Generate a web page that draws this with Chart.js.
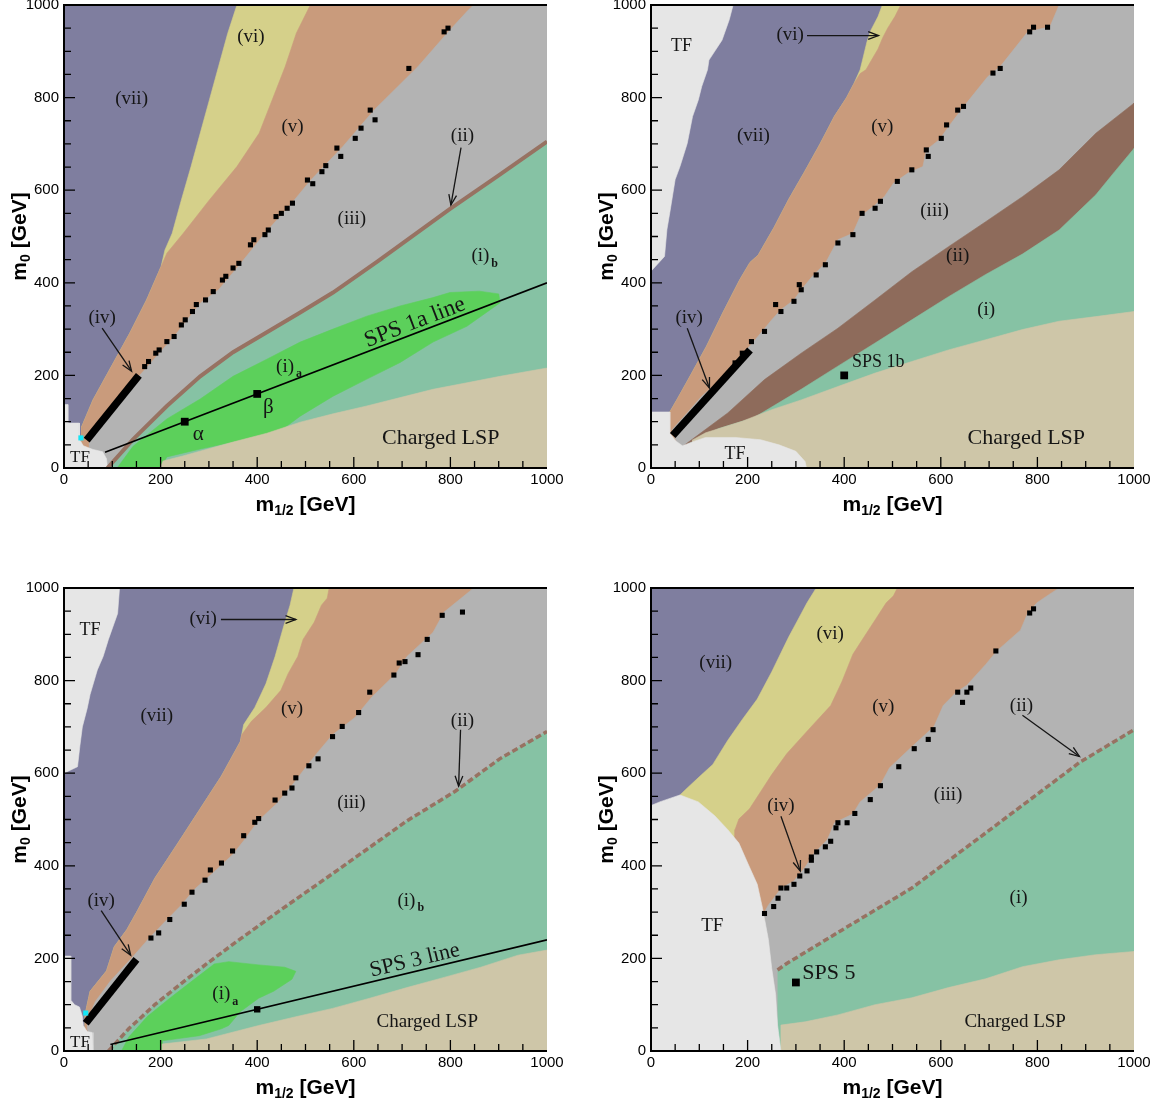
<!DOCTYPE html>
<html><head><meta charset="utf-8">
<script src="https://cdn.jsdelivr.net/npm/chart.js@4.4.0/dist/chart.umd.min.js"></script>
<style>
html,body{margin:0;padding:0;background:#fff}
body{width:1158px;height:1107px;overflow:hidden;position:relative}
.p{position:absolute;width:575px}
</style></head><body>
<div class="p" id="d1" style="left:0px;top:-8px"><canvas id="c1" width="575" height="545"></canvas></div>
<div class="p" id="d2" style="left:587px;top:-8px"><canvas id="c2" width="575" height="545"></canvas></div>
<div class="p" id="d3" style="left:0px;top:575px"><canvas id="c3" width="575" height="545"></canvas></div>
<div class="p" id="d4" style="left:587px;top:575px"><canvas id="c4" width="575" height="545"></canvas></div>
<script>
// ---------------- data (m1/2, m0) in GeV ----------------
const tickValues = [0, 200, 400, 600, 800, 1000];
const tickLabels = ['0', '200', '400', '600', '800', '1000'];
const fullPlane = [[0,0],[0,1000],[1000,1000],[1000,0]];

// Panel 1 (SPS 1a)
const p1_vii_vi = [[358,1000],[339,939],[320,867],[301,795],[282,723],[263,651],[243,579],[224,507],[209,471],[201,435],[171,363],[136,291],[98,219],[60,147],[37,90],[37,0]];
const p1_vi_v = [[510,1000],[481,939],[458,867],[431,795],[404,723],[358,651],[301,579],[247,507],[213,464],[201,435],[171,363],[136,291],[98,219],[60,147],[37,90],[37,0]];
const p1_v_iii = [[848,1000],[837,989],[799,946],[733,867],[642,773],[577,694],[511,622],[466,565],[416,507],[366,442],[320,385],[282,356],[228,284],[155,198],[113,147],[52,54],[55,0]];
const p1_ii = [[90,0],[143,62],[213,134],[282,198],[350,250],[420,293],[489,336],[557,379],[650,447],[800,560],[900,632],[1000,705]];
const p1_ia = [[110,0],[143,47],[213,106],[282,149],[350,198],[420,235],[489,272],[557,300],[627,328],[696,350],[764,368],[799,379],[860,382],[900,376],[903,357],[834,306],[764,272],[696,228],[627,192],[557,155],[489,112],[453,84],[420,69],[350,56],[282,41],[213,24],[199,0]];
const p1_lsp = [[199,0],[205,15],[246,26],[350,56],[420,75],[489,99],[557,117],[627,134],[696,152],[764,170],[834,184],[903,198],[1000,216]];
const p1_tf = [[0,0],[0,137],[8,137],[8,97],[32,97],[32,62],[40,48],[60,40],[80,35],[88,20],[90,0]];
const p1_chain = [[47,60],[155,200]];
const p1_sq = [[795,950],[787,942],[714,863],[634,773],[644,752],[615,734],[603,712],[565,691],[573,673],[542,653],[534,640],[504,622],[515,614],[473,572],[462,561],[450,550],[439,543],[423,514],[416,504],[393,493],[386,482],[362,442],[350,432],[335,414],[328,406],[309,381],[293,363],[274,353],[266,338],[251,320],[243,309],[228,284],[213,273],[197,255],[190,248],[175,230],[167,219]];
const p1_cyan = [[35,65]];
const p1_sps = [[85,34],[1000,400]];
const p1_pts = [[250,100],[400,160]];

// Panel 2 (SPS 1b)
const p2_tf_left = [[0,1000],[170,1000],[162,968],[147,924],[120,881],[117,860],[105,824],[98,795],[86,759],[75,701],[60,651],[50,623],[39,552],[33,515],[28,457],[0,425]];
const p2_tf_bottom = [[0,0],[0,121],[39,121],[39,75],[52,58],[65,48],[90,58],[113,66],[174,66],[227,61],[265,50],[300,36],[319,14],[322,0]];
const p2_vii_vi = [[479,1000],[470,975],[455,945],[447,920],[440,890],[433,860],[420,830],[405,800],[380,760],[350,700],[318,640],[285,580],[255,520],[222,460],[205,444],[184,407],[149,336],[115,263],[77,191],[55,150],[39,121],[39,0]];
const p2_vi_v = [[517,1000],[505,975],[490,950],[480,930],[470,905],[456,880],[445,860],[433,852],[420,830],[405,800],[380,760],[350,700],[318,640],[285,580],[255,520],[222,460],[205,444],[184,407],[149,336],[115,263],[77,191],[55,150],[39,121],[39,0]];
const p2_v_iii = [[845,1000],[826,953],[780,942],[723,867],[697,845],[647,780],[616,737],[597,709],[570,687],[563,651],[532,637],[502,615],[483,586],[464,568],[433,543],[418,507],[387,493],[361,442],[334,414],[311,385],[296,363],[269,342],[250,320],[227,291],[204,263],[159,205],[136,183],[105,155],[75,119],[44,83],[55,50],[60,0]];
const p2_ii_top = [[60,40],[70,50],[159,119],[235,191],[311,248],[387,302],[464,363],[540,424],[616,478],[693,532],[769,586],[845,644],[921,723],[1000,788]];
const p2_i_top = [[75,50],[140,85],[212,108],[311,170],[387,220],[464,270],[540,320],[616,370],[693,418],[769,462],[845,514],[921,590],[960,640],[1000,690]];
const p2_lsp = [[85,60],[113,76],[189,101],[250,126],[311,147],[387,176],[464,205],[540,230],[616,255],[693,277],[769,299],[845,317],[921,327],[1000,338]];
const p2_chain = [[45,70],[205,255]];
const p2_sq = [[784,942],[792,952],[821,952],[708,853],[723,863],[635,773],[647,781],[612,741],[601,712],[570,687],[574,673],[540,644],[510,619],[475,576],[464,561],[437,550],[418,504],[387,486],[361,439],[342,417],[311,385],[307,396],[296,360],[269,338],[258,353],[235,295],[208,273],[189,248],[174,227]];
const p2_pts = [[400,200]];

// Panel 3 (SPS 3)
const p3_tf_left = [[0,1000],[115,1000],[111,945],[92,889],[81,852],[69,823],[54,770],[48,740],[38,700],[33,660],[28,614],[0,600]];
const p3_tf_bottom = [[0,0],[0,205],[14,205],[14,110],[22,100],[32,95],[38,75],[40,55],[48,42],[58,40],[60,0]];
const p3_vii_vi = [[476,1000],[468,963],[453,911],[437,852],[418,793],[395,742],[372,705],[365,668],[326,594],[280,520],[234,446],[188,373],[150,299],[130,262],[104,225],[88,173],[54,129],[47,95],[44,80],[44,0]];
const p3_vi_v = [[549,1000],[545,978],[533,963],[518,926],[495,889],[484,852],[464,815],[449,779],[418,742],[388,712],[368,683],[365,668],[326,594],[280,520],[234,446],[188,373],[150,299],[130,262],[104,225],[88,173],[54,129],[47,95],[44,80],[44,0]];
const p3_v_iii = [[848,1000],[840,993],[787,948],[764,904],[710,852],[687,815],[637,764],[602,720],[556,683],[526,646],[503,616],[476,579],[441,535],[403,498],[372,454],[349,424],[311,387],[272,351],[242,314],[207,277],[173,240],[142,203],[96,151],[65,107],[50,70],[48,50],[58,0]];
const p3_ii = [[92,0],[134,48],[188,100],[249,151],[295,188],[357,236],[449,305],[556,383],[633,440],[710,497],[810,561],[902,631],[1000,690]];
const p3_ia = [[119,0],[134,30],[173,75],[219,114],[265,151],[311,188],[341,193],[403,186],[457,181],[480,172],[472,155],[434,129],[403,114],[365,85],[341,55],[326,48],[280,33],[203,22],[203,0]];
const p3_lsp = [[203,0],[203,15],[295,26],[403,55],[480,74],[556,92],[633,114],[710,137],[787,159],[863,181],[940,207],[1000,218]];
const p3_chain = [[45,60],[150,198]];
const p3_sq = [[783,941],[825,948],[752,889],[733,856],[706,841],[694,838],[683,812],[633,775],[610,731],[576,701],[556,679],[526,631],[507,616],[480,590],[472,568],[457,557],[437,542],[403,502],[395,494],[372,465],[349,432],[326,406],[303,391],[292,369],[265,343],[249,317],[219,284],[196,255],[180,244]];
const p3_cyan = [[45,82]];
const p3_sps = [[96,14],[1000,240]];
const p3_pts = [[400,90]];

// Panel 4 (SPS 5)
const p4_vii_vi = [[342,1000],[323,968],[304,931],[285,894],[250,819],[220,760],[189,716],[159,671],[128,619],[105,597],[75,568],[60,553],[60,0]];
const p4_vi_v = [[510,1000],[502,983],[487,968],[464,931],[441,894],[418,857],[395,797],[372,746],[326,694],[281,642],[250,597],[227,560],[204,523],[182,501],[174,478],[174,0]];
const p4_v_iii = [[845,1000],[830,990],[799,968],[780,946],[765,909],[716,864],[693,835],[654,790],[632,775],[605,746],[586,701],[540,657],[494,612],[475,575],[433,538],[418,512],[380,493],[365,456],[338,427],[319,397],[296,367],[270,352],[243,315],[235,300],[240,0]];
const p4_tf = [[0,0],[0,530],[18,538],[60,553],[98,538],[132,508],[159,478],[182,449],[201,404],[220,360],[231,308],[243,241],[250,178],[258,122],[262,56],[269,0]];
const p4_ii = [[262,175],[281,189],[387,256],[540,352],[693,471],[887,623],[1000,694]];
const p4_lsp = [[269,0],[269,56],[319,63],[387,78],[464,100],[540,115],[616,137],[693,156],[769,182],[845,197],[921,208],[1000,215]];
const p4_sq = [[784,946],[792,955],[714,864],[635,775],[654,775],[645,753],[662,784],[584,694],[574,673],[545,653],[513,614],[475,573],[454,543],[422,513],[406,493],[387,493],[383,482],[372,453],[361,441],[343,430],[332,419],[332,412],[323,389],[308,378],[296,360],[281,352],[269,352],[263,330],[254,312],[235,297]];
const p4_pts = [[300,148]];

// ---------------- styles ----------------
const COL = {vii:'#7f7e9f', vi:'#d5d08a', v:'#c99b7c', iii:'#b3b3b3', ii:'#8e6b5b', iiLine:'#977262',
  ib:'#86c2a4', ia:'#5cd05b', lsp:'#cec6a8', tf:'#e6e6e6', cyan:'#12e6f6', ink:'#000'};
const SERIF = '"Liberation Serif", "DejaVu Serif", serif';
const SANS = '"Liberation Sans", Arial, sans-serif';

const P = a => a.map(p => ({x: p[0], y: p[1]}));
const RIGHT_CLOSE = [[1000,0],[1000,1000]];
function region(a, color, close) {
  return {data: P(a.concat(close || [])), showLine: true, fill: 'shape', backgroundColor: color,
    borderColor: color, borderWidth: 0.6, pointRadius: 0, pointHoverRadius: 0, tension: 0};
}
function line(a, color, w, dash) {
  return {data: P(a), showLine: true, fill: false, borderColor: color, backgroundColor: color,
    borderWidth: w, borderDash: dash || [], pointRadius: 0, pointHoverRadius: 0, tension: 0, borderCapStyle: 'butt'};
}
function marks(a, r, color) {
  return {data: P(a), showLine: false, fill: false, pointStyle: 'rect', pointRadius: r, pointHoverRadius: r,
    backgroundColor: color, borderWidth: 0, borderColor: color};
}

function drawLabel(ctx, L, x, y) {
  const size = L.size || 19;
  const mf = size + 'px ' + SERIF, sf = 'bold ' + Math.round(size * 0.62) + 'px ' + SERIF;
  ctx.font = mf; const w1 = ctx.measureText(L.t).width;
  let w2 = 0;
  if (L.sub) { ctx.font = sf; w2 = ctx.measureText(L.sub).width + 2; }
  let x0 = L.align === 'left' ? x : x - (w1 + w2) / 2;
  ctx.textAlign = 'left'; ctx.textBaseline = 'middle';
  ctx.font = mf; ctx.fillText(L.t, x0, y);
  if (L.sub) { ctx.font = sf; ctx.fillText(L.sub, x0 + w1 + 2, y + size * 0.38); }
}
function arrow(ctx, x1, y1, x2, y2) {
  ctx.lineWidth = 1.3;
  ctx.beginPath(); ctx.moveTo(x1, y1); ctx.lineTo(x2, y2); ctx.stroke();
  const a = Math.atan2(y2 - y1, x2 - x1), h = 11, s = 0.36;
  ctx.beginPath();
  ctx.moveTo(x2 - h * Math.cos(a - s), y2 - h * Math.sin(a - s));
  ctx.lineTo(x2, y2);
  ctx.lineTo(x2 - h * Math.cos(a + s), y2 - h * Math.sin(a + s));
  ctx.stroke();
}
function rich(ctx, parts, cx, cy) {
  const MF = 'bold 21px ' + SANS, SF = 'bold 14px ' + SANS;
  let w = 0;
  parts.forEach(p => { ctx.font = p.sub ? SF : MF; p.w = ctx.measureText(p.t).width; w += p.w; });
  let x = cx - w / 2;
  ctx.textAlign = 'left'; ctx.textBaseline = 'middle';
  parts.forEach(p => { ctx.font = p.sub ? SF : MF; ctx.fillText(p.t, x, cy + (p.sub ? 6 : 0)); x += p.w; });
}

function makeDeco(cfg) {
  return {
    id: 'deco',
    afterDatasetsDraw(chart) {
      const ctx = chart.ctx, xs = chart.scales.x, ys = chart.scales.y;
      const X = v => xs.getPixelForValue(v), Y = v => ys.getPixelForValue(v);
      ctx.save();
      ctx.fillStyle = '#151515'; ctx.strokeStyle = '#151515';
      (cfg.arrows || []).forEach(a => arrow(ctx, X(a[0]), Y(a[1]), X(a[2]), Y(a[3])));
      (cfg.labels || []).forEach(L => {
        if (L.along) {
          const ax = X(L.along[0][0]), ay = Y(L.along[0][1]), bx = X(L.along[1][0]), by = Y(L.along[1][1]);
          ctx.save();
          ctx.translate(X(L.x), Y(L.y));
          ctx.rotate(Math.atan2(by - ay, bx - ax));
          ctx.font = (L.size || 22) + 'px ' + SERIF;
          ctx.textAlign = 'center'; ctx.textBaseline = 'alphabetic';
          ctx.fillText(L.t, 0, -4);
          ctx.restore();
        } else drawLabel(ctx, L, X(L.x), Y(L.y));
      });
      ctx.restore();
    },
    afterDraw(chart) {
      const ctx = chart.ctx, xs = chart.scales.x, ys = chart.scales.y;
      const {left, right, top, bottom} = chart.chartArea;
      ctx.save();
      ctx.strokeStyle = '#000';
      ctx.lineWidth = 1.3;
      ctx.beginPath();
      for (let v = 50; v < 1000; v += 50) {
        const len = v % 200 === 0 ? 11 : 7;
        const px = xs.getPixelForValue(v), py = ys.getPixelForValue(v);
        ctx.moveTo(px, bottom); ctx.lineTo(px, bottom - len);
        ctx.moveTo(left, py); ctx.lineTo(left + len, py);
      }
      ctx.stroke();
      ctx.lineWidth = 2;
      ctx.beginPath();
      ctx.moveTo(right, top); ctx.lineTo(left, top); ctx.lineTo(left, bottom); ctx.lineTo(right, bottom);
      ctx.stroke();
      ctx.fillStyle = '#000';
      rich(ctx, [{t: 'm'}, {t: '1/2', sub: true}, {t: ' [GeV]'}], (left + right) / 2, bottom + 37);
      ctx.translate(left - 44, (top + bottom) / 2);
      ctx.rotate(-Math.PI / 2);
      rich(ctx, [{t: 'm'}, {t: '0', sub: true}, {t: ' [GeV]'}], 0, 0);
      ctx.restore();
    }
  };
}

function build(id, layers, cfg, plotTop, plotBottom) {
  const ds = layers.map((d, i) => Object.assign(d, {order: layers.length - i}));
  const tickOpts = {font: {family: SANS, size: 15}, color: '#000', autoSkip: false, maxRotation: 0, minRotation: 0,
    callback: v => tickLabels[tickValues.indexOf(v)]};
  const ch = new Chart(document.getElementById('c' + id), {
    type: 'scatter',
    data: {datasets: ds},
    options: {
      responsive: false, animation: false, events: [],
      layout: {padding: {top: 0, right: 28, left: 0, bottom: 0}},
      plugins: {legend: {display: false}, tooltip: {enabled: false}},
      scales: {
        x: {type: 'linear', min: 0, max: 1000, position: 'bottom',
          afterBuildTicks: s => { s.ticks = tickValues.map(v => ({value: v})); },
          ticks: Object.assign({padding: 3}, tickOpts),
          grid: {display: false, drawTicks: false}, border: {display: false},
          afterFit: s => { s.height = 68; }},
        y: {type: 'linear', min: 0, max: 1000, position: 'left',
          afterBuildTicks: s => { s.ticks = tickValues.map(v => ({value: v})); },
          ticks: Object.assign({padding: 5}, tickOpts),
          grid: {display: false, drawTicks: false}, border: {display: false},
          afterFit: s => { s.width = 64; }}
      }
    },
    plugins: [makeDeco(cfg)]
  });
  // align the plot area with the page layout
  const ca = ch.chartArea;
  const h = ch.height + (plotBottom - plotTop) - (ca.bottom - ca.top);
  if (Math.abs(h - ch.height) > 0.5) ch.resize(575, h);
  document.getElementById('d' + id).style.top = (plotTop - ch.chartArea.top) + 'px';
  return ch;
}

// Panel 1
build('1', [
  region(fullPlane, COL.vii),
  region(p1_vii_vi, COL.vi, RIGHT_CLOSE),
  region(p1_vi_v, COL.v, RIGHT_CLOSE),
  region(p1_v_iii, COL.iii, RIGHT_CLOSE),
  region(p1_ii, COL.ib, [[1000,0]]),
  region(p1_ia, COL.ia),
  region(p1_lsp, COL.lsp, [[1000,0]]),
  region(p1_tf, COL.tf),
  line(p1_ii, COL.iiLine, 4),
  line(p1_chain, COL.ink, 7.5),
  line(p1_sps, COL.ink, 1.6),
  marks(p1_sq, 3.6, COL.ink),
  marks(p1_cyan, 3.6, COL.cyan),
  marks(p1_pts, 5.5, COL.ink)
], {
  labels: [
    {t: '(vii)', x: 140, y: 797}, {t: '(vi)', x: 387, y: 930}, {t: '(v)', x: 473, y: 737},
    {t: '(iii)', x: 596, y: 538}, {t: '(ii)', x: 825, y: 716}, {t: '(i)', sub: 'b', x: 871, y: 457},
    {t: '(iv)', x: 79, y: 324}, {t: '(i)', sub: 'a', x: 466, y: 219},
    {t: 'SPS 1a line', x: 734, y: 294, along: p1_sps, size: 23},
    {t: 'α', x: 278, y: 72, size: 21}, {t: 'β', x: 423, y: 130, size: 21},
    {t: 'TF', x: 33, y: 22, size: 17}, {t: 'Charged LSP', x: 780, y: 65, size: 22}
  ],
  arrows: [[822, 692, 801, 568], [79, 302, 140, 209]]
}, 5, 469);

// Panel 2
build('2', [
  region(fullPlane, COL.vii),
  region(p2_vii_vi, COL.vi, RIGHT_CLOSE),
  region(p2_vi_v, COL.v, RIGHT_CLOSE),
  region(p2_v_iii, COL.iii, RIGHT_CLOSE),
  region(p2_ii_top, COL.ii, [[1000,0],[60,0]]),
  region(p2_i_top, COL.ib, [[1000,0],[75,0]]),
  region(p2_lsp, COL.lsp, [[1000,0],[85,0]]),
  region(p2_tf_left, COL.tf),
  region(p2_tf_bottom, COL.tf),
  line(p2_chain, COL.ink, 7.5),
  marks(p2_sq, 3.6, COL.ink),
  marks(p2_pts, 5.5, COL.ink)
], {
  labels: [
    {t: 'TF', x: 63, y: 910, size: 18}, {t: '(vi)', x: 288, y: 935}, {t: '(vii)', x: 212, y: 716},
    {t: '(v)', x: 479, y: 737}, {t: '(iii)', x: 587, y: 554}, {t: '(ii)', x: 635, y: 458},
    {t: '(i)', x: 694, y: 342}, {t: '(iv)', x: 79, y: 324},
    {t: 'SPS 1b', x: 416, y: 228, size: 18, align: 'left'},
    {t: 'TF', x: 174, y: 29, size: 18}, {t: 'Charged LSP', x: 777, y: 65, size: 22}
  ],
  arrows: [[323, 934, 471, 934], [75, 302, 121, 173]]
}, 5, 469);

// Panel 3
build('3', [
  region(fullPlane, COL.vii),
  region(p3_vii_vi, COL.vi, RIGHT_CLOSE),
  region(p3_vi_v, COL.v, RIGHT_CLOSE),
  region(p3_v_iii, COL.iii, RIGHT_CLOSE),
  region(p3_ii, COL.ib, [[1000,0]]),
  region(p3_ia, COL.ia),
  region(p3_lsp, COL.lsp, [[1000,0]]),
  region(p3_tf_left, COL.tf),
  region(p3_tf_bottom, COL.tf),
  line(p3_ii, COL.iiLine, 3.5, [6, 3]),
  line(p3_chain, COL.ink, 7.5),
  line(p3_sps, COL.ink, 1.6),
  marks(p3_sq, 3.6, COL.ink),
  marks(p3_cyan, 3.6, COL.cyan),
  marks(p3_pts, 4.5, COL.ink)
], {
  labels: [
    {t: 'TF', x: 54, y: 908, size: 18}, {t: '(vi)', x: 288, y: 934}, {t: '(vii)', x: 192, y: 723},
    {t: '(v)', x: 472, y: 738}, {t: '(iii)', x: 595, y: 535}, {t: '(ii)', x: 825, y: 712},
    {t: '(i)', sub: 'b', x: 718, y: 325}, {t: '(iv)', x: 77, y: 325}, {t: '(i)', sub: 'a', x: 334, y: 122},
    {t: 'SPS 3 line', x: 731, y: 175, along: p3_sps, size: 22},
    {t: 'TF', x: 33, y: 18, size: 17}, {t: 'Charged LSP', x: 752, y: 63, size: 19}
  ],
  arrows: [[325, 932, 480, 932], [821, 694, 817, 572], [77, 303, 138, 207]]
}, 588, 1052);

// Panel 4
build('4', [
  region(fullPlane, COL.vii),
  region(p4_vii_vi, COL.vi, RIGHT_CLOSE),
  region(p4_vi_v, COL.v, RIGHT_CLOSE),
  region(p4_v_iii, COL.iii, RIGHT_CLOSE),
  region(p4_ii, COL.ib, [[1000,0],[262,0]]),
  region(p4_lsp, COL.lsp, [[1000,0],[269,0]]),
  region(p4_tf, COL.tf),
  line(p4_ii, COL.iiLine, 3.5, [6, 3]),
  marks(p4_sq, 3.6, COL.ink),
  marks(p4_pts, 5.5, COL.ink)
], {
  labels: [
    {t: '(vii)', x: 134, y: 838}, {t: '(vi)', x: 371, y: 901}, {t: '(v)', x: 481, y: 742},
    {t: '(iii)', x: 615, y: 553}, {t: '(ii)', x: 767, y: 746}, {t: '(iv)', x: 269, y: 530},
    {t: '(i)', x: 761, y: 330}, {t: 'TF', x: 127, y: 271, size: 19},
    {t: 'SPS 5', x: 313, y: 167, size: 22, align: 'left'},
    {t: 'Charged LSP', x: 754, y: 63, size: 19}
  ],
  arrows: [[769, 725, 887, 636], [269, 507, 309, 389]]
}, 588, 1052);
</script>
</body></html>
